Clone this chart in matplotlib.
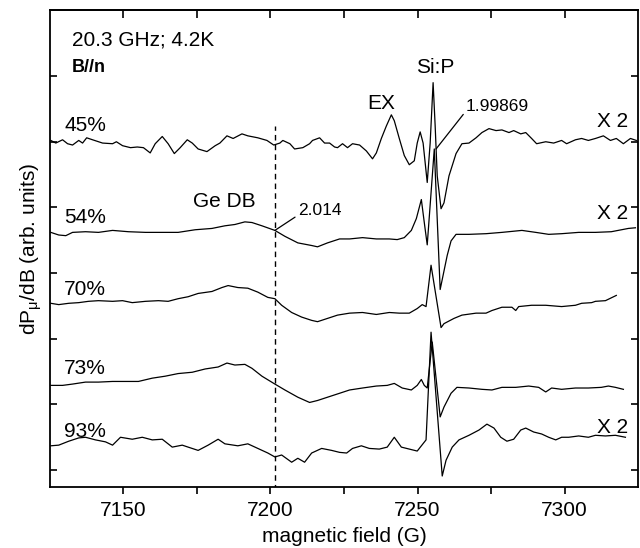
import matplotlib
matplotlib.use("Agg")
import matplotlib.pyplot as plt
from matplotlib.ticker import FixedLocator, NullFormatter

plt.rcParams['font.family'] = ['Liberation Sans', 'DejaVu Sans']
plt.rcParams['mathtext.default'] = 'regular'

# --- spectra (field in G, signal in arb. units) ---
field_45 = [7125.3, 7127.0, 7129.3, 7131.0, 7132.7, 7134.8, 7136.1, 7137.5, 7139.5, 7142.9,
            7146.3, 7147.6, 7149.7, 7152.4, 7154.7, 7156.8, 7159.1, 7160.8, 7163.2, 7165.2,
            7167.3, 7169.3, 7171.7, 7173.4, 7175.4, 7178.4, 7181.2, 7182.8, 7185.2, 7187.3,
            7190.3, 7192.3, 7195.7, 7198.8, 7201.1, 7203.2, 7204.2, 7206.6, 7208.2, 7211.0,
            7213.3, 7214.3, 7216.7, 7218.4, 7220.1, 7221.8, 7222.8, 7224.5, 7226.2, 7227.9,
            7230.3, 7232.6, 7234.7, 7236.0, 7237.7, 7239.4, 7241.1, 7242.1, 7243.8, 7245.5,
            7247.2, 7248.9, 7249.9, 7250.9, 7251.9, 7253.3, 7254.3, 7255.3, 7256.0, 7256.7,
            7258.0, 7259.0, 7260.7, 7263.1, 7265.1, 7267.5, 7269.9, 7271.9, 7274.3, 7276.7,
            7278.7, 7281.1, 7282.7, 7285.1, 7286.8, 7288.8, 7290.5, 7293.6, 7296.3, 7299.0,
            7300.7, 7303.7, 7305.8, 7308.1, 7310.5, 7313.2, 7315.6, 7317.6, 7320.0, 7322.4,
            7324.4]
sig_45 = [0.2, -0.2, 0.3, -0.3, -0.5, 0.2, -0.2, 0.6, 0.3, -0.2,
          -0.3, 0.0, -0.6, -0.9, -0.8, -0.9, -1.7, -0.3, 0.8, -0.3,
          -1.8, -0.9, 0.3, -0.2, -1.1, -1.5, -0.6, -0.2, 0.9, 0.5,
          1.2, 0.9, 0.6, 0.2, -0.5, -0.2, 0.2, -0.3, -1.1, -0.9,
          -0.3, 0.2, 0.6, -0.2, -0.2, -0.8, -0.9, -0.3, -0.9, -0.3,
          -0.5, -1.4, -2.6, -1.7, 0.5, 2.4, 4.1, 3.2, 0.5, -2.1,
          -3.5, -2.9, -0.2, 1.5, -0.2, -6.2, -0.2, 9.0, 2.4, -5.2,
          -10.2, -9.3, -5.2, -1.8, -0.3, -0.2, 0.6, 1.4, 2.0, 1.7,
          1.8, 1.4, 1.7, 1.2, 1.4, 0.5, -0.3, 0.0, -0.2, 0.2,
          -0.3, 0.3, 0.5, 0.2, 0.5, 0.9, 0.2, 0.5, -0.3, 0.5,
          0.2]

field_54 = [7125.3, 7128.0, 7130.4, 7132.7, 7137.1, 7141.5, 7146.3, 7151.7, 7157.5, 7163.2,
            7168.6, 7174.4, 7180.1, 7184.5, 7187.9, 7191.3, 7193.7, 7197.1, 7201.5, 7204.9,
            7209.3, 7214.0, 7216.0, 7219.4, 7223.5, 7226.9, 7231.3, 7236.0, 7240.4, 7243.1,
            7245.5, 7247.9, 7249.6, 7251.3, 7252.3, 7253.3, 7255.7, 7257.7, 7260.1, 7261.4,
            7263.1, 7267.5, 7273.3, 7278.7, 7285.5, 7290.2, 7294.6, 7299.0, 7304.8, 7310.5,
            7315.9, 7321.7, 7324.1]
sig_54 = [0.2, -0.2, -0.3, 0.2, 0.3, 0.2, 0.5, 0.3, 0.2, 0.2,
          0.2, 0.6, 0.8, 1.2, 1.4, 1.8, 1.7, 1.2, 0.5, -0.4,
          -1.4, -1.8, -2.0, -1.4, -0.8, -0.8, -0.6, -0.8, -0.8, -0.9,
          -0.6, 0.5, 2.3, 5.2, 1.7, -1.7, 12.9, -8.5, -3.3, -1.1,
          -0.1, -0.1, 0.0, 0.2, 0.5, 0.2, -0.1, 0.0, 0.2, 0.2,
          0.3, 0.8, 0.9]

field_70 = [7125.3, 7128.0, 7131.4, 7134.8, 7138.1, 7141.5, 7146.3, 7149.7, 7153.0, 7157.5,
            7161.9, 7165.2, 7168.6, 7172.0, 7175.4, 7180.1, 7183.5, 7185.6, 7188.9, 7192.3,
            7195.7, 7199.1, 7201.5, 7203.8, 7207.2, 7210.6, 7214.0, 7216.0, 7219.4, 7222.8,
            7226.9, 7231.3, 7236.0, 7240.4, 7243.8, 7247.2, 7249.9, 7251.6, 7252.9, 7254.6,
            7258.0, 7259.0, 7262.4, 7265.1, 7269.9, 7273.3, 7275.3, 7278.7, 7282.1, 7283.4,
            7284.4, 7288.8, 7293.6, 7299.0, 7303.7, 7305.8, 7309.2, 7310.5, 7313.9, 7317.6]
sig_70 = [0.4, 0.2, 0.4, 0.5, 0.7, 0.8, 0.7, 0.8, 0.5, 0.7,
          0.8, 0.7, 1.1, 1.4, 1.9, 2.2, 2.8, 3.1, 2.8, 2.7,
          2.1, 1.3, 1.1, 0.1, -1.0, -1.7, -2.2, -2.4, -1.9, -1.4,
          -1.1, -1.0, -1.3, -1.0, -1.1, -1.1, -0.4, 0.2, -0.1, 6.2,
          -3.3, -2.7, -1.9, -1.4, -1.1, -1.1, -0.7, -0.2, -0.2, -0.7,
          -0.1, 0.1, 0.1, -0.1, 0.1, 0.4, 0.5, 0.7, 0.8, 1.6]

field_73 = [7125.3, 7129.3, 7132.7, 7137.1, 7141.5, 7146.3, 7150.7, 7155.1, 7159.8, 7164.2,
            7168.6, 7173.4, 7177.8, 7182.2, 7185.2, 7187.9, 7191.3, 7193.7, 7197.1, 7201.5,
            7204.9, 7209.3, 7213.3, 7216.0, 7219.4, 7223.5, 7226.9, 7231.3, 7236.0, 7239.7,
            7242.1, 7244.8, 7247.9, 7249.9, 7251.3, 7252.3, 7253.3, 7255.0, 7257.7, 7259.0,
            7261.4, 7263.4, 7267.5, 7271.9, 7275.3, 7278.7, 7283.4, 7287.8, 7291.2, 7293.6,
            7295.6, 7299.0, 7303.7, 7308.1, 7312.5, 7314.9, 7317.3, 7320.0]
sig_73 = [-0.1, -0.1, 0.1, 0.4, 0.4, 0.5, 0.5, 0.5, 1.0, 1.3,
          1.7, 1.9, 2.4, 2.7, 3.3, 3.0, 3.1, 2.5, 1.3, 0.1,
          -0.8, -1.9, -2.7, -2.4, -1.9, -1.3, -0.8, -0.5, -0.2, -0.1,
          0.2, -0.5, -0.8, -0.1, 0.8, -0.1, -0.5, 6.5, -4.9, -3.4,
          -1.3, -0.4, -0.5, -0.7, -0.8, -0.4, -0.4, -0.2, -0.4, -1.1,
          -0.5, -0.7, -0.5, -0.5, -0.4, -0.2, -0.4, -0.7]

field_93 = [7125.3, 7128.0, 7131.4, 7134.8, 7137.1, 7140.5, 7143.9, 7146.3, 7149.0, 7153.0,
            7156.4, 7159.8, 7163.2, 7166.6, 7170.0, 7172.0, 7175.4, 7178.8, 7182.2, 7184.5,
            7188.9, 7192.3, 7195.7, 7199.1, 7201.5, 7203.8, 7207.2, 7209.3, 7211.6, 7214.0,
            7217.4, 7220.8, 7223.5, 7225.9, 7227.9, 7230.9, 7233.6, 7237.0, 7239.7, 7242.1,
            7244.5, 7247.2, 7249.9, 7252.9, 7254.6, 7258.4, 7259.7, 7261.8, 7264.1, 7267.5,
            7270.9, 7273.6, 7276.0, 7278.3, 7280.4, 7282.7, 7285.1, 7286.8, 7289.5, 7292.2,
            7294.6, 7297.0, 7299.0, 7301.4, 7304.8, 7308.1, 7310.5, 7313.9, 7317.3, 7320.7]
sig_93 = [0.2, 0.3, 0.9, 1.4, 1.5, 1.1, 0.8, 0.3, 1.5, 1.2,
          1.5, 1.1, 1.2, 0.0, 0.3, 0.0, -0.5, 0.3, 1.2, 0.5,
          0.2, 0.5, -0.2, -0.9, -1.5, -1.2, -2.3, -1.7, -2.3, -0.9,
          -0.2, -0.5, -0.8, -0.9, -0.2, 0.2, -0.2, -0.3, 0.0, 1.5,
          0.0, -0.3, -0.6, 1.1, 17.5, -4.4, -2.0, 0.0, 1.1, 1.8,
          2.6, 3.5, 2.9, 1.5, 0.9, 1.2, 2.6, 2.9, 2.3, 2.0,
          1.5, 1.1, 1.5, 1.5, 1.7, 1.5, 1.8, 1.7, 1.8, 1.5]

labels = ["45%", "54%", "70%", "73%", "93%"]
offsets = [50, 36, 25, 13, 3.5]
scaled = [True, True, False, False, True]   # traces marked "X 2"
fields = [field_45, field_54, field_70, field_73, field_93]
signals = [sig_45, sig_54, sig_70, sig_73, sig_93]

g_ge_field = 7201.5   # Ge DB, g = 2.014

fig = plt.figure(figsize=(6.4, 5.48), dpi=100)
ax = fig.add_axes([0.078, 0.111, 0.919, 0.870])

for f, s, off, lab, x2 in zip(fields, signals, offsets, labels, scaled):
    ax.plot(f, [v + off for v in s], color='black', lw=0.9)
    ax.text(7129.8, off + 1.6, lab, fontsize=15, ha='left', va='baseline')
    if x2:
        ax.text(7311, off + 2.2, "X 2", fontsize=15, ha='left', va='baseline')

ax.vlines(g_ge_field, -3, 52.4, colors='black', lw=1.0, linestyles=(0, (4, 3)))

ax.text(0.037, 0.927, "20.3 GHz; 4.2K", transform=ax.transAxes, fontsize=15, va='baseline')
ax.text(0.037, 0.870, "B//n", transform=ax.transAxes, fontsize=13, fontweight='bold', va='baseline')
ax.text(7173.7, 40.0, "Ge DB", fontsize=15, va='baseline')
ax.text(7233.0, 55.0, "EX", fontsize=15, va='baseline')
ax.text(7249.6, 60.5, "Si:P", fontsize=15, va='baseline')

ax.annotate("2.014", xy=(7201.5, 36.5), xytext=(7209.3, 38.8), fontsize=12.5, va='baseline',
            arrowprops=dict(arrowstyle='-', lw=0.9, shrinkA=0, shrinkB=0,
                            relpos=(0, 0.2)))
ax.annotate("1.99869", xy=(7256.3, 48.9), xytext=(7266.5, 54.7), fontsize=12.5, va='baseline',
            arrowprops=dict(arrowstyle='-', lw=0.9, shrinkA=0, shrinkB=0,
                            relpos=(0, 0.2)))

ax.set_xlim(7125, 7325)
ax.set_ylim(-2.6, 70)

ax.xaxis.set_major_locator(FixedLocator([7150, 7200, 7250, 7300]))
ax.xaxis.set_minor_locator(FixedLocator([7175, 7225, 7275]))
ax.tick_params(axis='x', which='both', direction='out', length=5, width=1.2,
               labelsize=15, pad=5)
ax.yaxis.set_major_locator(FixedLocator([0, 10, 20, 30, 40, 50, 60]))
ax.yaxis.set_major_formatter(NullFormatter())
ax.tick_params(axis='y', which='both', direction='in', length=5, width=1.2,
               left=True, right=True)

top = ax.secondary_xaxis('top')
top.xaxis.set_major_locator(FixedLocator([7150, 7175, 7200, 7225, 7250, 7275, 7300]))
top.xaxis.set_major_formatter(NullFormatter())
top.tick_params(direction='in', length=6, width=1.2)
top.spines['top'].set_linewidth(1.3)

for sp in ax.spines.values():
    sp.set_linewidth(1.3)

ax.set_xlabel("magnetic field (G)", fontsize=15, labelpad=5)
ax.set_ylabel("dP$_{μ}$/dB (arb. units)", fontsize=15, labelpad=1)

fig.savefig("out.png", dpi=100)
